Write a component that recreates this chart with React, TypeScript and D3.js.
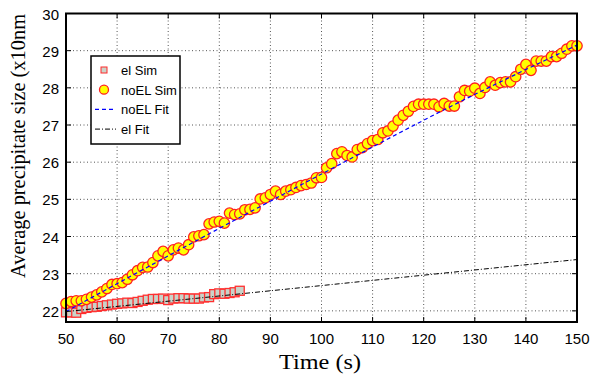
import { useEffect, useRef } from "react";
import * as d3 from "d3";

// noEL simulation, one sample per second from 50 s to 150 s
const noElTime = d3.range(50, 151);
const noElSim = [
  22.2, 22.25, 22.27, 22.27, 22.31, 22.37, 22.43, 22.51, 22.6, 22.71,
  22.73, 22.76, 22.85, 22.97, 23.08, 23.17, 23.18, 23.3, 23.48, 23.6,
  23.48, 23.64, 23.69, 23.64, 23.78, 23.99, 24.02, 24.05, 24.34, 24.39,
  24.41, 24.36, 24.63, 24.59, 24.61, 24.72, 24.73, 24.77, 25.01, 25.04,
  25.13, 25.22, 25.13, 25.22, 25.26, 25.32, 25.37, 25.4, 25.44, 25.58,
  25.59, 25.85, 25.96, 26.23, 26.28, 26.18, 26.14, 26.34, 26.39, 26.5,
  26.58, 26.61, 26.79, 26.84, 26.97, 27.13, 27.26, 27.37, 27.5, 27.56,
  27.56, 27.56, 27.56, 27.49, 27.58, 27.51, 27.51, 27.76, 27.93, 27.91,
  27.99, 27.85, 28.01, 28.16, 28.07, 28.14, 28.16, 28.16, 28.3, 28.5,
  28.63, 28.47, 28.72, 28.72, 28.72, 28.84, 28.84, 28.93, 29.04, 29.13,
  29.13,
];

// el simulation, 50 s to 84 s
const elTime = d3.range(50, 85);
const elSim = [
  21.96, 21.96, 21.95, 22.05, 22.08, 22.1, 22.11, 22.13, 22.15, 22.17,
  22.19, 22.2, 22.22, 22.21, 22.24, 22.27, 22.3, 22.32, 22.32, 22.33,
  22.29, 22.33, 22.34, 22.34, 22.33, 22.33, 22.33, 22.36, 22.37, 22.45,
  22.47, 22.46, 22.48, 22.5, 22.54,
];

// fitted curves
const noElFitTime = [50, 75, 100, 125, 150];
const noElFit = [21.98, 23.85, 25.68, 27.48, 29.15];
const elFitTime = [50, 150];
const elFit = [21.98, 23.38];

const xTicks = [50, 60, 70, 80, 90, 100, 110, 120, 130, 140, 150];
const yTicks = [22, 23, 24, 25, 26, 27, 28, 29, 30];
const legendLabels = ["el Sim", "noEL Sim", "noEL Fit", "el Fit"];

export default function App() {
  const svgRef = useRef<SVGSVGElement>(null);

  useEffect(() => {
    if (!svgRef.current) return;
    const svg = d3.select(svgRef.current);
    svg.selectAll("*").remove();

    const left = 66, right = 577, top = 13.5, bottom = 322;
    const x = d3.scaleLinear().domain([50, 150]).range([left, right]);
    const y = d3.scaleLinear().domain([21.7, 30]).range([bottom, top]);

    // grid
    const grid = svg.append("g").attr("stroke", "#555").attr("stroke-width", 1).attr("stroke-dasharray", "1,2.5");
    xTicks.slice(1, -1).forEach((t) => {
      grid.append("line").attr("x1", x(t)).attr("x2", x(t)).attr("y1", top).attr("y2", bottom);
    });
    yTicks.slice(0, -1).forEach((t) => {
      grid.append("line").attr("x1", left).attr("x2", right).attr("y1", y(t)).attr("y2", y(t));
    });

    // inward ticks
    const ticks = svg.append("g").attr("stroke", "#000").attr("stroke-width", 1);
    xTicks.forEach((t) => {
      ticks.append("line").attr("x1", x(t)).attr("x2", x(t)).attr("y1", bottom).attr("y2", bottom - 5);
      ticks.append("line").attr("x1", x(t)).attr("x2", x(t)).attr("y1", top).attr("y2", top + 5);
    });
    yTicks.forEach((t) => {
      ticks.append("line").attr("x1", left).attr("x2", left + 5).attr("y1", y(t)).attr("y2", y(t));
      ticks.append("line").attr("x1", right).attr("x2", right - 5).attr("y1", y(t)).attr("y2", y(t));
    });

    // el Sim squares
    svg
      .append("g")
      .selectAll("rect")
      .data(elSim)
      .join("rect")
      .attr("x", (d, i) => x(elTime[i]) - 4.5)
      .attr("y", (d) => y(d) - 4.5)
      .attr("width", 9)
      .attr("height", 9)
      .attr("fill", "#c9d3c9")
      .attr("stroke", "#ff3030")
      .attr("stroke-width", 1.3);

    // noEL Sim circles
    svg
      .append("g")
      .selectAll("circle")
      .data(noElSim)
      .join("circle")
      .attr("cx", (d, i) => x(noElTime[i]))
      .attr("cy", (d) => y(d))
      .attr("r", 5.2)
      .attr("fill", "#ffff00")
      .attr("stroke", "#ff2020")
      .attr("stroke-width", 1.3);

    // fits
    const lineFit = (ts: number[]) =>
      d3
        .line<number>()
        .x((d, i) => x(ts[i]))
        .y((d) => y(d))
        .curve(d3.curveMonotoneX);

    svg
      .append("path")
      .attr("d", lineFit(noElFitTime)(noElFit))
      .attr("fill", "none")
      .attr("stroke", "#0000ff")
      .attr("stroke-width", 1.2)
      .attr("stroke-dasharray", "4,3");

    svg
      .append("path")
      .attr("d", lineFit(elFitTime)(elFit))
      .attr("fill", "none")
      .attr("stroke", "#000")
      .attr("stroke-width", 1)
      .attr("stroke-dasharray", "5,2,1,2");

    // frame
    svg
      .append("rect")
      .attr("x", left)
      .attr("y", top)
      .attr("width", right - left)
      .attr("height", bottom - top)
      .attr("fill", "none")
      .attr("stroke", "#000")
      .attr("stroke-width", 2);

    // tick labels
    svg
      .append("g")
      .selectAll("text")
      .data(xTicks)
      .join("text")
      .attr("x", (d) => x(d))
      .attr("y", 344)
      .attr("text-anchor", "middle")
      .attr("font-family", "Liberation Sans, Arial, sans-serif")
      .attr("font-size", 15)
      .text((d) => d);

    svg
      .append("g")
      .selectAll("text")
      .data(yTicks)
      .join("text")
      .attr("x", 59)
      .attr("y", (d) => y(d) + 6)
      .attr("text-anchor", "end")
      .attr("font-family", "Liberation Sans, Arial, sans-serif")
      .attr("font-size", 15)
      .text((d) => d);

    // axis titles
    svg
      .append("text")
      .attr("x", 320)
      .attr("y", 369)
      .attr("text-anchor", "middle")
      .attr("font-family", "Liberation Serif, DejaVu Serif, serif")
      .attr("font-size", 22)
      .attr("textLength", 82)
      .attr("lengthAdjust", "spacingAndGlyphs")
      .text("Time (s)");

    svg
      .append("text")
      .attr("transform", "translate(25,278) rotate(-90)")
      .attr("text-anchor", "start")
      .attr("font-family", "Liberation Serif, DejaVu Serif, serif")
      .attr("font-size", 20)
      .attr("textLength", 264)
      .attr("lengthAdjust", "spacingAndGlyphs")
      .text("Average precipitate size (x10nm");

    // legend
    const lg = svg.append("g");
    lg.append("rect")
      .attr("x", 91)
      .attr("y", 56)
      .attr("width", 89)
      .attr("height", 88)
      .attr("fill", "#fff")
      .attr("stroke", "#000")
      .attr("stroke-width", 1.5);

    legendLabels.forEach((label, i) => {
      const ly = 70 + i * 19.7;
      if (i === 0) {
        lg.append("rect")
          .attr("x", 101)
          .attr("y", ly - 3)
          .attr("width", 6)
          .attr("height", 6)
          .attr("fill", "#c9d3c9")
          .attr("stroke", "#ff2a2a")
          .attr("stroke-width", 1);
      } else if (i === 1) {
        lg.append("circle")
          .attr("cx", 104)
          .attr("cy", ly)
          .attr("r", 4.5)
          .attr("fill", "#ffff00")
          .attr("stroke", "#ff2020")
          .attr("stroke-width", 1.3);
      } else {
        lg.append("line")
          .attr("x1", 95)
          .attr("x2", 116)
          .attr("y1", ly)
          .attr("y2", ly)
          .attr("stroke", i === 2 ? "#0000ff" : "#000")
          .attr("stroke-width", i === 2 ? 1.2 : 1)
          .attr("stroke-dasharray", i === 2 ? "4,3" : "5,2,1,2");
      }
      lg.append("text")
        .attr("x", 121)
        .attr("y", ly + 5)
        .attr("font-family", "Liberation Sans, Arial, sans-serif")
        .attr("font-size", 13)
        .text(label);
    });
  }, []);

  return (
    <svg
      ref={svgRef}
      width={594}
      height={377}
      style={{ position: "absolute", left: 0, top: 0, background: "#fff" }}
    ></svg>
  );
}
